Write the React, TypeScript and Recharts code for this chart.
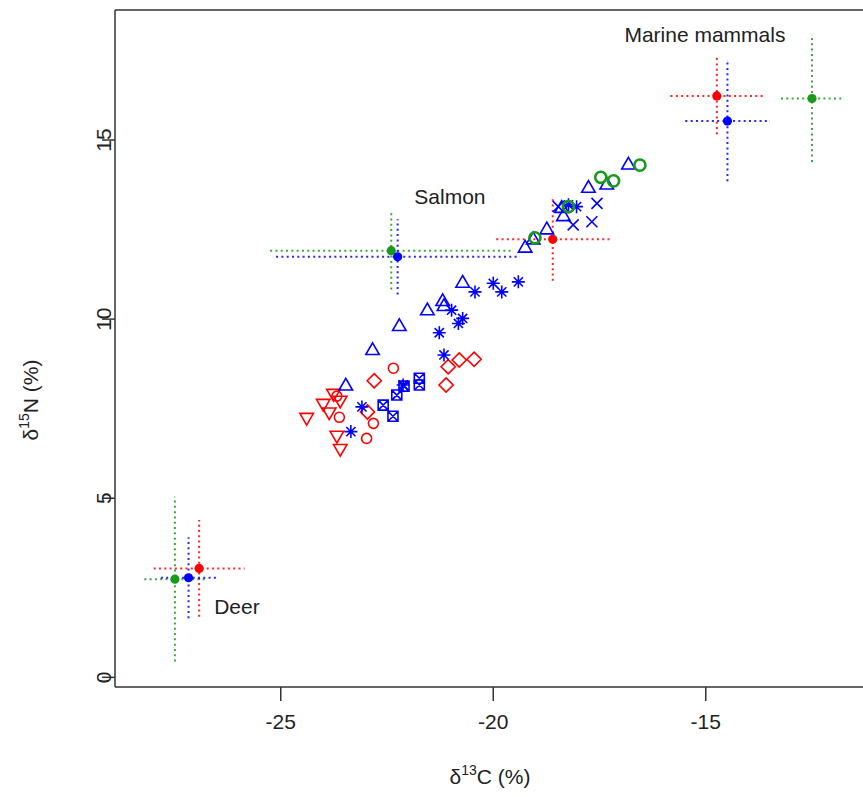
import React from 'react';
import { ScatterChart, Scatter, XAxis, YAxis, ErrorBar, ReferenceLine } from 'recharts';

const RED = '#FF0000';
const BLUE = '#0000FF';
const GREEN = '#1A9A1A';
const AXIS = '#333333';
const FONT = '"Liberation Sans", Arial, Helvetica, sans-serif';

const X_MIN = -28.9;
const X_MAX = -11.23;
const Y_MIN = -0.27;
const Y_MAX = 18.63;
const xTicks = [-25, -20, -15];
const yTicks = [0, 5, 10, 15];

// Sources: Deer, Salmon, Marine mammals
const redSrcX = [-26.92, -18.6, -14.74];
const redSrcY = [3.04, 12.23, 16.23];
const redSrcXErr = [1.07, 1.33, 1.09];
const redSrcYErr = [1.35, 1.16, 1.07];

const blueSrcX = [-27.17, -22.25, -14.49];
const blueSrcY = [2.78, 11.74, 15.53];
const blueSrcXErr = [0.65, 2.86, 0.99];
const blueSrcYErr = [1.13, 1.05, 1.68];

const greenSrcX = [-27.49, -22.4, -12.5];
const greenSrcY = [2.74, 11.91, 16.16];
const greenSrcXErr = [0.72, 2.85, 0.73];
const greenSrcYErr = [2.3, 1.08, 1.77];

// Annotations
const labelText = ['Marine mammals', 'Salmon', 'Deer'];
const labelX = [-15.02, -21.02, -26.03];
const labelY = [17.93, 13.41, 1.96];

// Consumers
const blueTriX = [-20.72, -21.19, -21.16, -21.55, -22.21, -22.84, -23.47, -16.82, -17.76, -17.33, -18.39, -18.35, -18.74, -19.06, -19.25];
const blueTriY = [11.0, 10.49, 10.35, 10.23, 9.79, 9.12, 8.13, 14.3, 13.65, 13.74, 13.09, 12.86, 12.49, 12.21, 11.98];

const blueCrossX = [-17.56, -17.68, -18.12, -18.47];
const blueCrossY = [13.23, 12.72, 12.63, 13.14];

const blueStarX = [-20.43, -20.0, -19.8, -19.41, -20.98, -20.72, -20.82, -21.27, -21.16, -22.12, -23.09, -23.35, -18.23, -18.04];
const blueStarY = [10.76, 11.0, 10.76, 11.04, 10.25, 10.02, 9.88, 9.62, 9.0, 8.16, 7.55, 6.86, 13.19, 13.14];

const blueBoxX = [-21.74, -21.74, -22.27, -22.59, -22.36, -22.1];
const blueBoxY = [8.35, 8.16, 7.88, 7.6, 7.29, 8.13];

const redCircX = [-22.35, -23.62, -22.82, -22.98, -23.68];
const redCircY = [8.63, 7.26, 7.09, 6.67, 7.85];

const redDiamX = [-22.8, -22.96, -20.8, -20.45, -21.06, -21.11];
const redDiamY = [8.28, 7.41, 8.86, 8.88, 8.67, 8.16];

const redDownX = [-24.39, -24.0, -23.86, -23.76, -23.6, -23.68, -23.6];
const redDownY = [7.26, 7.65, 7.41, 7.93, 7.74, 6.76, 6.39];

const greenCircX = [-16.55, -17.47, -17.17, -18.23, -19.02];
const greenCircY = [14.3, 13.96, 13.86, 13.14, 12.27];

const zip = (xs: number[], ys: number[]) => xs.map((x, i) => ({ x, y: ys[i] }));
const src = (xs: number[], ys: number[], xe: number[], ye: number[]) =>
  xs.map((x, i) => ({ x, y: ys[i], xerr: xe[i], yerr: ye[i] }));

const redSources = src(redSrcX, redSrcY, redSrcXErr, redSrcYErr);
const blueSources = src(blueSrcX, blueSrcY, blueSrcXErr, blueSrcYErr);
const greenSources = src(greenSrcX, greenSrcY, greenSrcXErr, greenSrcYErr);
const labels = labelText.map((label, i) => ({ x: labelX[i], y: labelY[i], label }));

const R = 5;
const SW = 1.6;

const triPath = (cx: number, cy: number, r: number, up: boolean) => {
  const h = up ? -1 : 1;
  const xc = (r * Math.sqrt(3)) / 2;
  return `M${cx},${cy + h * r} L${cx + xc},${cy - (h * r) / 2} L${cx - xc},${cy - (h * r) / 2} Z`;
};

const TriUp = (color: string) => (p: any) => (
  <path d={triPath(p.cx, p.cy, 7.8, true)} fill="none" stroke={color} strokeWidth={SW} />
);
const TriDown = (color: string) => (p: any) => (
  <path d={triPath(p.cx, p.cy, 7.8, false)} fill="none" stroke={color} strokeWidth={SW} />
);
const Circ = (color: string, r: number, sw: number) => (p: any) => (
  <circle cx={p.cx} cy={p.cy} r={r} fill="none" stroke={color} strokeWidth={sw} />
);
const Dot = (color: string) => (p: any) => <circle cx={p.cx} cy={p.cy} r={4.6} fill={color} stroke="none" />;
const Diam = (color: string) => (p: any) => {
  const d = 7.1;
  return (
    <path
      d={`M${p.cx},${p.cy - d} L${p.cx + d},${p.cy} L${p.cx},${p.cy + d} L${p.cx - d},${p.cy} Z`}
      fill="none"
      stroke={color}
      strokeWidth={SW}
    />
  );
};
const Cross = (color: string) => (p: any) => {
  const d = 5.5;
  return (
    <path
      d={`M${p.cx - d},${p.cy - d} L${p.cx + d},${p.cy + d} M${p.cx - d},${p.cy + d} L${p.cx + d},${p.cy - d}`}
      stroke={color}
      strokeWidth={SW}
    />
  );
};
const Star = (color: string) => (p: any) => {
  const a = 6.5;
  const b = a / Math.SQRT2;
  const { cx, cy } = p;
  return (
    <path
      d={`M${cx - a},${cy} L${cx + a},${cy} M${cx},${cy - a} L${cx},${cy + a} M${cx - b},${cy - b} L${cx + b},${cy + b} M${cx - b},${cy + b} L${cx + b},${cy - b}`}
      stroke={color}
      strokeWidth={SW}
    />
  );
};
const BoxX = (color: string) => (p: any) => {
  const d = R;
  const { cx, cy } = p;
  return (
    <path
      d={`M${cx - d},${cy - d} L${cx + d},${cy - d} L${cx + d},${cy + d} L${cx - d},${cy + d} Z M${cx - d},${cy - d} L${cx + d},${cy + d} M${cx - d},${cy + d} L${cx + d},${cy - d}`}
      fill="none"
      stroke={color}
      strokeWidth={SW}
    />
  );
};
const TextShape = (p: any) => {
  const label = p.payload?.label ?? p.label;
  return (
    <text x={p.cx} y={p.cy + 7} textAnchor="middle" fontSize={21} fontFamily={FONT} fill="#222">
      {label}
    </text>
  );
};

const XTick = (p: any) => (
  <text x={p.x} y={p.y + 26} textAnchor="middle" fontSize={21} fontFamily={FONT} fill="#222">
    {String(p.payload.value)}
  </text>
);
const YTick = (p: any) => {
  const bx = p.x + 11.5;
  return (
    <text
      x={bx}
      y={p.y}
      textAnchor="middle"
      fontSize={21}
      fontFamily={FONT}
      fill="#222"
      transform={`rotate(-90, ${bx}, ${p.y})`}
    >
      {String(p.payload.value)}
    </text>
  );
};

const dotted = { strokeWidth: 2, strokeDasharray: '2 3.3', strokeOpacity: 0.85 };

export default function App() {
  return (
    <div style={{ width: 863, height: 797, overflow: 'hidden', background: '#fff', position: 'relative' }}>
      <style>{'body{margin:0;overflow:hidden;}'}</style>
      <ScatterChart width={880} height={797} margin={{ top: 10, right: 14, bottom: 0, left: 0 }}>
        <XAxis
          type="number"
          dataKey="x"
          domain={[X_MIN, X_MAX]}
          ticks={xTicks}
          allowDataOverflow
          height={110}
          tickSize={14}
          tickMargin={2}
          tick={<XTick />}
          axisLine={{ stroke: AXIS, strokeWidth: 1.5 }}
          tickLine={{ stroke: AXIS, strokeWidth: 1.5 }}
        />
        <YAxis
          type="number"
          dataKey="y"
          domain={[Y_MIN, Y_MAX]}
          ticks={yTicks}
          allowDataOverflow
          width={115}
          tickSize={13}
          tickMargin={2}
          tick={<YTick />}
          axisLine={{ stroke: AXIS, strokeWidth: 1.5 }}
          tickLine={{ stroke: AXIS, strokeWidth: 1.5 }}
        />
        <ReferenceLine y={Y_MAX} stroke={AXIS} strokeWidth={1.5} />
        <ReferenceLine x={X_MAX} stroke={AXIS} strokeWidth={1.5} />

        <Scatter data={redSources} shape={Dot(RED)} isAnimationActive={false}>
          <ErrorBar dataKey="xerr" direction="x" width={0} stroke={RED} {...dotted} isAnimationActive={false} />
          <ErrorBar dataKey="yerr" direction="y" width={0} stroke={RED} {...dotted} isAnimationActive={false} />
        </Scatter>
        <Scatter data={greenSources} shape={Dot(GREEN)} isAnimationActive={false}>
          <ErrorBar dataKey="xerr" direction="x" width={0} stroke={GREEN} {...dotted} isAnimationActive={false} />
          <ErrorBar dataKey="yerr" direction="y" width={0} stroke={GREEN} {...dotted} isAnimationActive={false} />
        </Scatter>
        <Scatter data={blueSources} shape={Dot(BLUE)} isAnimationActive={false}>
          <ErrorBar dataKey="xerr" direction="x" width={0} stroke={BLUE} {...dotted} isAnimationActive={false} />
          <ErrorBar dataKey="yerr" direction="y" width={0} stroke={BLUE} {...dotted} isAnimationActive={false} />
        </Scatter>

        <Scatter data={zip(redDownX, redDownY)} shape={TriDown(RED)} isAnimationActive={false} />
        <Scatter data={zip(redCircX, redCircY)} shape={Circ(RED, R, SW)} isAnimationActive={false} />
        <Scatter data={zip(redDiamX, redDiamY)} shape={Diam(RED)} isAnimationActive={false} />
        <Scatter data={zip(blueTriX, blueTriY)} shape={TriUp(BLUE)} isAnimationActive={false} />
        <Scatter data={zip(blueBoxX, blueBoxY)} shape={BoxX(BLUE)} isAnimationActive={false} />
        <Scatter data={zip(blueCrossX, blueCrossY)} shape={Cross(BLUE)} isAnimationActive={false} />
        <Scatter data={zip(blueStarX, blueStarY)} shape={Star(BLUE)} isAnimationActive={false} />
        <Scatter data={zip(greenCircX, greenCircY)} shape={Circ(GREEN, 5.6, 2.6)} isAnimationActive={false} />

        <Scatter data={labels} shape={TextShape} isAnimationActive={false} />
      </ScatterChart>
      <svg width={863} height={797} style={{ position: 'absolute', left: 0, top: 0, pointerEvents: 'none' }}>
        <text x={490} y={784} textAnchor="middle" fontSize={21} fontFamily={FONT} fill="#222">
          δ<tspan fontSize={14} dy={-9}>13</tspan>
          <tspan fontSize={21} dy={9}>C (%)</tspan>
        </text>
        <text
          x={38}
          y={400}
          textAnchor="middle"
          fontSize={21}
          fontFamily={FONT}
          fill="#222"
          transform="rotate(-90, 38, 400)"
        >
          δ<tspan fontSize={14} dy={-9}>15</tspan>
          <tspan fontSize={21} dy={9}>N (%)</tspan>
        </text>
      </svg>
    </div>
  );
}
